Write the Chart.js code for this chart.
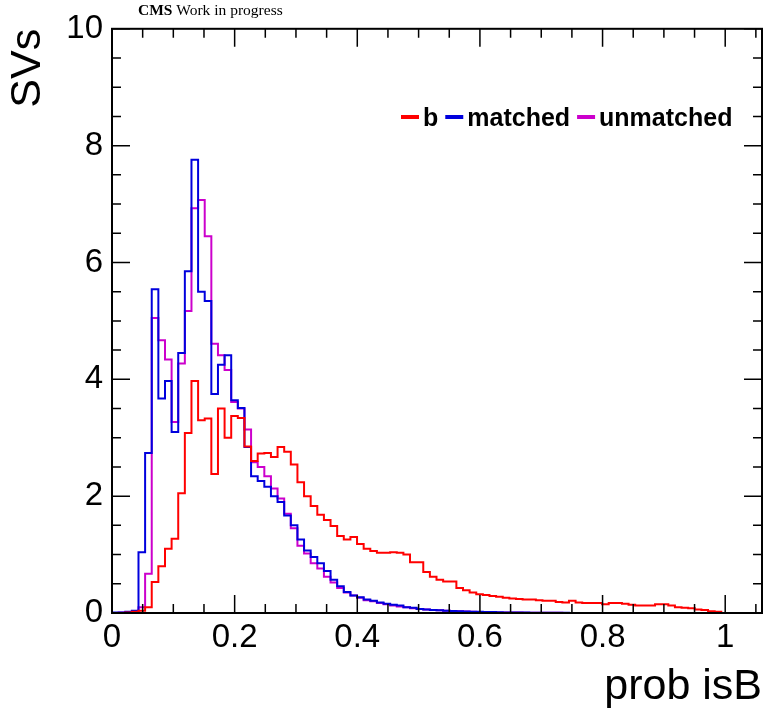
<!DOCTYPE html>
<html>
<head>
<meta charset="utf-8">
<script src="https://cdn.jsdelivr.net/npm/chart.js@4.4.1/dist/chart.umd.min.js"></script>
<style>
  body { margin: 0; background: #fff; }
  #wrap { width: 764px; height: 713px; }
</style>
</head>
<body>
<div id="wrap"><canvas id="svChart" width="764" height="713"></canvas></div>
<script>
// histogram binning (prob isB)
const binWidth = 0.0108;
const xMax = 1.06;

// per-bin contents
const bValues = [
  0, 0, 0.01, 0.02, 0.04, 0.10, 0.53, 0.80, 1.10, 1.27,
  2.05, 3.08, 3.97, 3.30, 3.33, 2.38, 3.50, 3.00, 3.37, 3.34,
  2.85, 2.60, 2.73, 2.74, 2.67, 2.84, 2.76, 2.54, 2.24, 2.00,
  1.83, 1.68, 1.59, 1.49, 1.32, 1.26, 1.30, 1.18, 1.10, 1.06,
  1.03, 1.03, 1.04, 1.03, 1.00, 0.87, 0.87, 0.70, 0.62, 0.57,
  0.54, 0.54, 0.43, 0.39, 0.35, 0.32, 0.31, 0.29, 0.28, 0.26,
  0.25, 0.24, 0.23, 0.23, 0.22, 0.21, 0.21, 0.19, 0.18, 0.21,
  0.18, 0.17, 0.17, 0.17, 0.15, 0.17, 0.17, 0.16, 0.14, 0.13,
  0.13, 0.13, 0.15, 0.15, 0.13, 0.10, 0.09, 0.08, 0.06, 0.05,
  0.03, 0.02, 0, 0, 0, 0, 0, 0
];
const matchedValues = [
  0.01, 0.01, 0.02, 0.04, 1.04, 2.74, 5.54, 3.67, 3.97, 3.10,
  4.45, 5.85, 7.76, 5.50, 5.34, 3.75, 4.25, 4.41, 3.64, 3.51,
  2.84, 2.34, 2.26, 2.16, 2.00, 1.90, 1.67, 1.50, 1.26, 1.07,
  0.96, 0.85, 0.72, 0.57, 0.46, 0.36, 0.30, 0.27, 0.23, 0.21,
  0.18, 0.16, 0.14, 0.13, 0.10, 0.09, 0.07, 0.06, 0.05, 0.045,
  0.04, 0.035, 0.03, 0.025, 0.02, 0.02, 0.018, 0.015, 0.012, 0.01,
  0.01, 0.008, 0.007, 0.006, 0.005, 0.004, 0.004, 0.003, 0.003, 0.002,
  0.002, 0.001, 0.001, 0.001, 0.001, 0.001, 0.001, 0.001, 0.001, 0.001,
  0, 0, 0, 0, 0, 0, 0, 0, 0, 0,
  0, 0, 0, 0, 0, 0, 0, 0
];
const unmatchedValues = [
  0, 0.01, 0.01, 0.02, 0.10, 0.67, 5.05, 4.67, 4.34, 3.27,
  4.27, 5.17, 6.93, 7.07, 6.45, 4.61, 4.41, 4.16, 3.61, 3.50,
  3.14, 2.58, 2.50, 2.34, 2.13, 1.96, 1.70, 1.45, 1.15, 1.02,
  0.85, 0.76, 0.62, 0.52, 0.43, 0.35, 0.30, 0.26, 0.22, 0.20,
  0.17, 0.15, 0.13, 0.11, 0.10, 0.08, 0.07, 0.06, 0.05, 0.045,
  0.04, 0.035, 0.03, 0.025, 0.02, 0.018, 0.015, 0.012, 0.01, 0.01,
  0.008, 0.007, 0.006, 0.005, 0.004, 0.004, 0.003, 0.003, 0.002, 0.002,
  0.001, 0.001, 0.001, 0.001, 0.001, 0.001, 0, 0, 0, 0,
  0, 0, 0, 0, 0, 0, 0, 0, 0, 0,
  0, 0, 0, 0, 0, 0, 0, 0
];

const seriesNames = ['b', 'matched', 'unmatched'];
const seriesColors = ['#ff0000', '#0000dd', '#cc00cc'];

const FONT = "'Liberation Sans', Arial, Helvetica, sans-serif";

// step points at bin edges (left edge of each bin, then the last right edge)
function toSteps(values) {
  const pts = values.map((v, i) => ({ x: i * binWidth, y: v }));
  pts.push({ x: values.length * binWidth, y: values[values.length - 1] });
  return pts;
}

const rootStyle = {
  id: 'rootStyle',
  afterDatasetsDraw(chart) {
    const { ctx, chartArea: a, scales: { x, y } } = chart;
    ctx.save();
    ctx.strokeStyle = '#000';
    ctx.lineWidth = 1.5;
    ctx.beginPath();
    // x ticks, bottom and top, every 0.05 (major every 0.2)
    for (let k = 0; k * 0.05 <= xMax + 1e-9; k++) {
      const px = x.getPixelForValue(k * 0.05);
      const len = k % 4 === 0 ? 18 : 9;
      ctx.moveTo(px, a.bottom); ctx.lineTo(px, a.bottom - len);
      ctx.moveTo(px, a.top); ctx.lineTo(px, a.top + len);
    }
    // y ticks, left and right, every 0.5 (major every 2)
    for (let k = 0; k <= 20; k++) {
      const py = y.getPixelForValue(k * 0.5);
      const len = k % 4 === 0 ? 18 : 9;
      ctx.moveTo(a.left, py); ctx.lineTo(a.left + len, py);
      ctx.moveTo(a.right, py); ctx.lineTo(a.right - len, py);
    }
    ctx.stroke();
    ctx.lineWidth = 2;
    ctx.strokeRect(a.left, a.top, a.right - a.left, a.bottom - a.top);

    // legend inside the frame
    ctx.textBaseline = 'alphabetic';
    ctx.font = 'bold 25px ' + FONT;
    let lx = 401;
    chart.data.datasets.forEach(ds => {
      ctx.strokeStyle = ds.borderColor;
      ctx.lineWidth = 4;
      ctx.beginPath();
      ctx.moveTo(lx, 117); ctx.lineTo(lx + 18, 117);
      ctx.stroke();
      lx += 22;
      ctx.fillStyle = '#000';
      ctx.fillText(ds.label, lx, 126);
      lx += ctx.measureText(ds.label).width + 7;
    });

    // CMS label
    ctx.fillStyle = '#000';
    ctx.font = "bold 15.5px 'Liberation Serif', 'Times New Roman', serif";
    ctx.fillText('CMS', 138, 15);
    const w = ctx.measureText('CMS').width;
    ctx.font = "15.5px 'Liberation Serif', 'Times New Roman', serif";
    ctx.fillText(' Work in progress', 138 + w, 15);
    ctx.restore();
  }
};

const datasets = [bValues, matchedValues, unmatchedValues].map((vals, i) => ({
  label: seriesNames[i],
  data: toSteps(vals),
  borderColor: seriesColors[i],
  backgroundColor: seriesColors[i],
  borderWidth: 2,
  pointRadius: 0,
  stepped: 'before',
  fill: false
}));

new Chart(document.getElementById('svChart').getContext('2d'), {
  type: 'line',
  data: { datasets },
  options: {
    responsive: false,
    animation: false,
    devicePixelRatio: 1,
    layout: { padding: { top: 28, right: 2, left: 0, bottom: 0 } },
    plugins: {
      legend: { display: false },
      tooltip: { enabled: false }
    },
    scales: {
      x: {
        type: 'linear',
        min: 0,
        max: xMax,
        grid: { display: false, drawTicks: false },
        border: { display: false },
        ticks: {
          stepSize: 0.2,
          includeBounds: false,
          autoSkip: false,
          maxRotation: 0,
          padding: 5,
          color: '#000',
          font: { family: FONT, size: 33 },
          callback: v => String(Math.round(v * 10) / 10)
        },
        title: {
          display: true,
          text: 'prob isB',
          align: 'end',
          color: '#000',
          font: { family: FONT, size: 43 },
          padding: { top: 0, bottom: 0 }
        },
        afterFit: s => { s.height = 100; }
      },
      y: {
        min: 0,
        max: 10,
        grid: { display: false, drawTicks: false },
        border: { display: false },
        ticks: {
          stepSize: 2,
          padding: 9,
          color: '#000',
          font: { family: FONT, size: 33 }
        },
        title: {
          display: true,
          text: 'SVs',
          align: 'end',
          color: '#000',
          font: { family: FONT, size: 43 },
          padding: { top: 2, bottom: 0 }
        },
        afterFit: s => { s.width = 112; }
      }
    }
  },
  plugins: [rootStyle]
});
</script>
</body>
</html>
